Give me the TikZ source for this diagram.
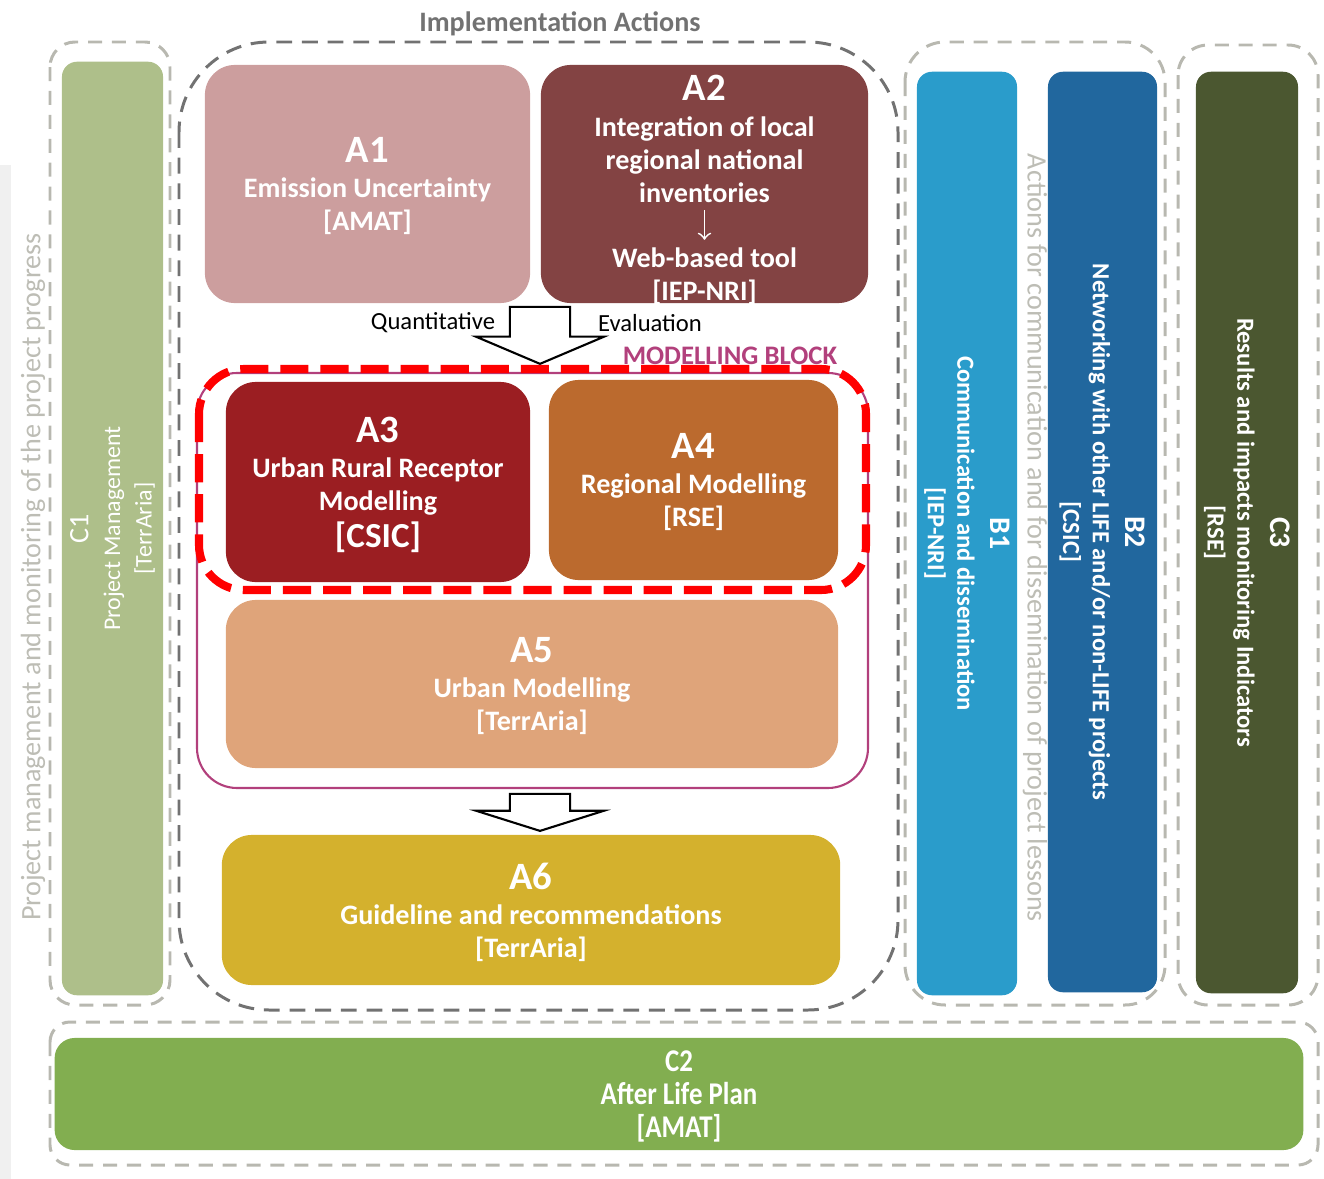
\documentclass[tikz,border=0pt]{standalone}
\usepackage{fontspec}
\setmainfont{Carlito}
\newfontfamily\condfont[FakeStretch=0.85]{Carlito}
\usetikzlibrary{shapes.arrows}

\definecolor{grpgray}{HTML}{B8B8B0}
\definecolor{implgray}{HTML}{727272}
\definecolor{notegray}{HTML}{BDBDB5}
\definecolor{magblock}{HTML}{B2407C}
\definecolor{colc1}{HTML}{AEBF8A}
\definecolor{cola1}{HTML}{CC9E9E}
\definecolor{cola2}{HTML}{834343}
\definecolor{cola3}{HTML}{9B1E22}
\definecolor{cola4}{HTML}{BB6A2E}
\definecolor{cola5}{HTML}{DFA47A}
\definecolor{cola6}{HTML}{D4B12D}
\definecolor{colb1}{HTML}{2A9CCB}
\definecolor{colb2}{HTML}{21679E}
\definecolor{colc3}{HTML}{4B5730}
\definecolor{colc2}{HTML}{82AE50}

\newcommand{\ttl}[1]{{\fontsize{11}{12}\selectfont #1}}

\begin{document}
\begin{tikzpicture}[x=0.01cm,y=-0.01cm,
                    every node/.style={align=center,inner sep=0pt},
                    boxtext/.style={text=white,font=\bfseries\fontsize{8}{9.4}\selectfont},
                    box/.style={rounded corners=0.3cm,boxtext,text depth=0pt},
                    vbar/.style={rounded corners=0.15cm,text=white,
                                 font=\bfseries\fontsize{7}{8.4}\selectfont},
                    grp/.style={draw=grpgray,line width=0.85pt,
                                dash pattern=on 4pt off 2.8pt},
                    note/.style={text=notegray,font=\fontsize{8}{9}\selectfont},
                    blockarrow/.style={shape=single arrow,draw=black,fill=white,
                                       line width=0.6pt,inner xsep=0pt,inner ysep=0.29cm,
                                       single arrow head extend=0.34cm,
                                       rotate=-90,anchor=tip}]
   \useasboundingbox (0,0) rectangle (1324,1179);
   \fill[black!6] (0,165) rectangle (11,1179);

   \draw[grp,rounded corners=0.25cm] (50,42) rectangle (170,1005);
   \draw[grp,rounded corners=0.4cm] (905,42) rectangle (1165,1005);
   \draw[grp,rounded corners=0.3cm] (1178,45) rectangle (1318,1005);
   \draw[grp,rounded corners=0.2cm] (50,1022) rectangle (1318,1165);
   \draw[draw=implgray,line width=0.85pt,dash pattern=on 4.5pt off 2.8pt,
         rounded corners=0.9cm] (179,42) rectangle (898,1010);

   \node[note,text=implgray,font=\bfseries\fontsize{8}{9}\selectfont] (title) at (560,24) {Implementation Actions};
   \node[note,rotate=90] (pm) at (33,577) {Project management and monitoring of the project progress};
   \node[note,rotate=-90] (ac) at (1035,538) {Actions for communication and for dissemination of project lessons};

   \node[vbar,fill=colc1,rotate=90,minimum width=9.33cm,minimum height=1.01cm,
         font=\fontsize{6.8}{9}\selectfont] (c1) at (112.5,528.5)
        {{\fontsize{8}{9}\selectfont C1}\\ Project Management\\{[TerrAria]}};

   \node[box,fill=cola1,minimum width=3.25cm,minimum height=2.38cm] (a1) at (367.5,184)
        {\ttl{A1}\\[0.6pt] Emission Uncertainty\\{[AMAT]}};
   \node[box,fill=cola2,minimum width=3.27cm,minimum height=2.38cm] (a2) at (704.5,184) {};
   \node[boxtext] (a2top) at (704.5,139)
        {\ttl{A2}\\[0.6pt] Integration of local\\ regional national\\ inventories};
   \node[boxtext] (a2bot) at (704.5,276) {Web-based tool\\{[IEP-NRI]}};
   \draw[->,white,line width=0.5pt,shorten <=2pt,shorten >=2pt] (a2top) -- (a2bot);

   \node[blockarrow,minimum height=0.57cm,single arrow tip angle=134] (flowa) at (540,365) {};
   \node[font=\fontsize{7}{8}\selectfont] (qt) at (433,323) {Quantitative};
   \node[font=\fontsize{7}{8}\selectfont] (ev) at (650,323) {Evaluation};
   \node[font=\bfseries\fontsize{7.6}{9}\selectfont,text=magblock] (mb) at (730,356) {MODELLING BLOCK};

   \draw[magblock,line width=0.6pt,rounded corners=0.4cm] (197,373) rectangle (868,788);

   \node[box,fill=cola3,minimum width=3.04cm,minimum height=2.0cm] (a3) at (378,482)
        {\ttl{A3}\\[0.6pt] Urban Rural Receptor\\ Modelling\\[1pt]{\fontsize{10}{12}\selectfont[CSIC]}};
   \node[box,fill=cola4,minimum width=2.89cm,minimum height=2.0cm] (a4) at (693.5,480)
        {\ttl{A4}\\[0.6pt] Regional Modelling\\{[RSE]}};
   \node[box,fill=cola5,minimum width=6.12cm,minimum height=1.68cm] (a5) at (532,684)
        {\ttl{A5}\\[0.6pt] Urban Modelling\\{[TerrAria]}};

   \draw[red,line width=2.3pt,dash pattern=on 8pt off 3.4pt,rounded corners=0.45cm]
        (199,369) rectangle (866,590);

   \node[blockarrow,minimum height=0.37cm,single arrow tip angle=145] (flowb) at (540,832) {};

   \node[box,fill=cola6,minimum width=6.18cm,minimum height=1.5cm] (a6) at (531,910)
        {\ttl{A6}\\[0.6pt] Guideline and recommendations\\{[TerrAria]}};

   \node[vbar,fill=colb1,rotate=-90,minimum width=9.23cm,minimum height=1.0cm] (b1) at (967,533.5)
        {{\fontsize{8.5}{9}\selectfont B1}\\[1pt] Communication and dissemination\\{[IEP-NRI]}};
   \node[vbar,fill=colb2,rotate=-90,minimum width=9.2cm,minimum height=1.09cm] (b2) at (1102.5,532)
        {{\fontsize{8.5}{9}\selectfont B2}\\[1pt] Networking with other LIFE and/or non-LIFE projects\\{[CSIC]}};
   \node[vbar,fill=colc3,rotate=-90,minimum width=9.21cm,minimum height=1.02cm] (c3) at (1247,532.5)
        {{\fontsize{8.5}{9}\selectfont C3}\\[1pt] Results and impacts monitoring Indicators\\{[RSE]}};

   \node[box,fill=colc2,rounded corners=0.2cm,minimum width=12.48cm,minimum height=1.12cm,
         font=\condfont\bfseries\fontsize{9}{9.4}\selectfont] (c2) at (679,1094)
        {C2\\ After Life Plan\\{[AMAT]}};
\end{tikzpicture}
\end{document}
